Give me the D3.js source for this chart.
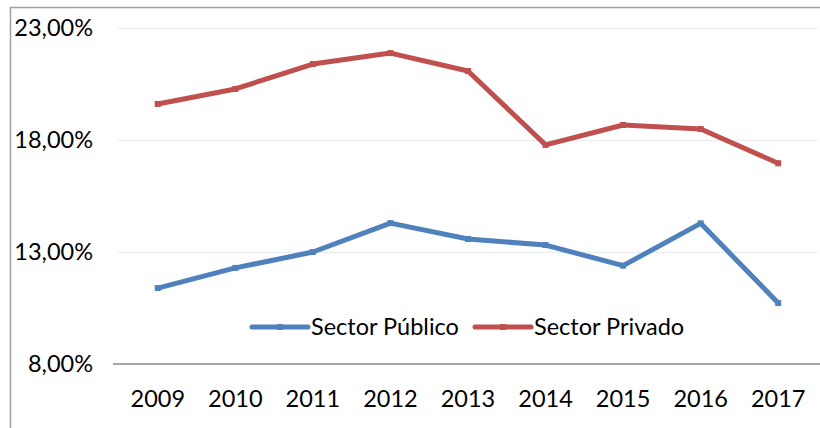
<!DOCTYPE html>
<html>
<head>
<meta charset="utf-8">
<script src="https://cdn.jsdelivr.net/npm/d3@7"></script>
<style>
  html, body { margin: 0; padding: 0; background: #fff; }
  svg { display: block; font-family: Lato, "Open Sans", sans-serif; }
</style>
</head>
<body>
<svg id="chart" width="820" height="428"></svg>
<script>
// Annual shares by sector (%)
const years = ["2009", "2010", "2011", "2012", "2013", "2014", "2015", "2016", "2017"];
const publico = [11.39, 12.29, 13.0, 14.29, 13.58, 13.31, 12.39, 14.28, 10.72];
const privado = [19.61, 20.28, 21.39, 21.88, 21.08, 17.78, 18.67, 18.49, 16.96];
const yTicks = [8, 13, 18, 23];
const seriesNames = ["Sector Público", "Sector Privado"];
const seriesColors = ["#4F81BD", "#C0504D"];

const svg = d3.select("#chart");
const W = 820, H = 428;
const plot = { left: 119, right: 817, top: 28, bottom: 364 };
const FONT = 23.5;

// outer chart frame
svg.append("rect")
  .attr("x", 10.5).attr("y", 7.5)
  .attr("width", W).attr("height", H)
  .attr("fill", "none").attr("stroke", "#a0a0a0").attr("stroke-width", 1.5);

const x = d3.scaleBand().domain(years).range([plot.left, plot.right]);
const y = d3.scaleLinear().domain([8, 23]).range([plot.bottom, plot.top]);

// horizontal gridlines
svg.append("g").selectAll("line")
  .data(yTicks.filter(t => t !== 8))
  .join("line")
  .attr("x1", plot.left).attr("x2", plot.right)
  .attr("y1", d => y(d) + 0.5).attr("y2", d => y(d) + 0.5)
  .attr("stroke", "#dde4ee").attr("stroke-width", 1)
  .attr("stroke-dasharray", "2,1");

// y axis labels
const fmt = v => d3.format(".2f")(v).replace(".", ",") + "%";
svg.append("g").selectAll("text")
  .data(yTicks)
  .join("text")
  .attr("x", 93).attr("y", d => y(d))
  .attr("dy", "0.36em")
  .attr("text-anchor", "end")
  .attr("font-size", FONT)
  .attr("fill", "#000")
  .text(fmt);

// x axis baseline
svg.append("line")
  .attr("x1", 113).attr("x2", W)
  .attr("y1", plot.bottom).attr("y2", plot.bottom)
  .attr("stroke", "#a6a6a6").attr("stroke-width", 2);

// x axis labels
svg.append("g").selectAll("text")
  .data(years)
  .join("text")
  .attr("x", d => x(d) + x.bandwidth() / 2)
  .attr("y", 399)
  .attr("dy", "0.36em")
  .attr("text-anchor", "middle")
  .attr("font-size", FONT)
  .attr("fill", "#000")
  .text(d => d);

// series lines
const line = d3.line()
  .x((d, i) => x(years[i]) + x.bandwidth() / 2)
  .y(d => y(d));

[publico, privado].forEach((vals, k) => {
  svg.append("path")
    .datum(vals)
    .attr("d", line)
    .attr("fill", "none")
    .attr("stroke", seriesColors[k])
    .attr("stroke-width", 5)
    .attr("stroke-linejoin", "round");
  svg.append("g").selectAll("rect")
    .data(vals)
    .join("rect")
    .attr("x", (d, i) => x(years[i]) + x.bandwidth() / 2 - 3)
    .attr("y", d => y(d) - 3)
    .attr("width", 6).attr("height", 6)
    .attr("fill", seriesColors[k]);
});

// legend
const legend = svg.append("g");
const legendItems = [
  { x: 252, name: seriesNames[0], color: seriesColors[0] },
  { x: 475, name: seriesNames[1], color: seriesColors[1] }
];
legendItems.forEach(it => {
  const g = legend.append("g").attr("transform", `translate(${it.x},327)`);
  g.append("line")
    .attr("x1", 0).attr("x2", 56).attr("y1", 0).attr("y2", 0)
    .attr("stroke", it.color).attr("stroke-width", 5).attr("stroke-linecap", "round");
  g.append("rect").attr("x", 25).attr("y", -3).attr("width", 6).attr("height", 6).attr("fill", it.color);
  g.append("text")
    .attr("x", 59).attr("y", 0).attr("dy", "0.36em")
    .attr("font-size", FONT).attr("fill", "#000")
    .text(it.name);
});
</script>
</body>
</html>
